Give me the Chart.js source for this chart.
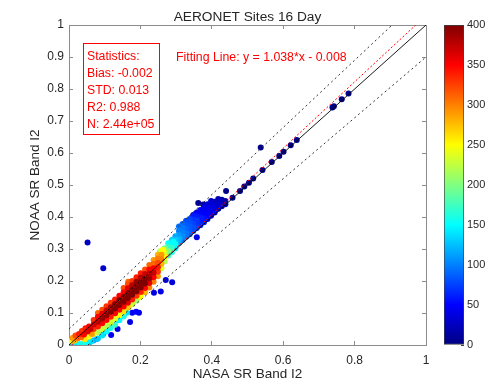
<!DOCTYPE html>
<html>
<head>
<meta charset="utf-8">
<script src="https://cdn.jsdelivr.net/npm/chart.js@4.4.1/dist/chart.umd.min.js"></script>
<style>
  html, body { margin: 0; padding: 0; background: #fff; }
  #wrap { position: relative; width: 487px; height: 381px; }
  #chart { position: absolute; left: 0; top: 0; }
  #cbar { position: absolute; left: 444px; top: 0; }
</style>
</head>
<body>
<div id="wrap">
  <canvas id="chart" width="487" height="381"></canvas>
  <canvas id="cbar" width="43" height="381"></canvas>
</div>
<script>
const TITLE = 'AERONET Sites 16 Day';
const X_LABEL = 'NASA SR Band I2';
const Y_LABEL = 'NOAA SR Band I2';
const STATS = ['Statistics:', 'Bias: -0.002', 'STD: 0.013', 'R2: 0.988', 'N: 2.44e+05'];
const FIT_TEXT = 'Fitting Line: y = 1.038*x - 0.008';
const FIT_SLOPE = 1.038, FIT_INTERCEPT = -0.008;
const CBAR_MAX = 400; // density colour scale

// reference lines
const oneToOne = [[0, 0], [1, 1]];
const envUpper = [[0, 0.05], [0.905, 1]];
const envLower = [[0.053, 0], [1, 0.9]];

// [x, y, density]
const band = [
  [0.004,0.002,130],[0.012,0.003,120],[0.020,0.002,140],[0.030,0.003,150],[0.040,0.004,160],[0.050,0.006,150],
  [0.005,0.012,250],[0.010,0.022,290],[0.015,0.013,270],[0.018,0.030,320],[0.024,0.020,300],[0.028,0.034,340],
  [0.034,0.024,310],[0.036,0.044,330],[0.042,0.033,350],[0.044,0.018,260],[0.046,0.052,340],[0.052,0.042,360],
  [0.055,0.026,250],[0.056,0.058,350],[0.060,0.050,370],[0.064,0.034,290],[0.062,0.012,140],
  [0.069,0.014,120],[0.069,0.034,240],[0.069,0.050,330],[0.069,0.064,370],[0.069,0.078,330],
  [0.081,0.020,130],[0.081,0.040,220],[0.081,0.058,340],[0.081,0.073,380],[0.081,0.088,350],[0.081,0.100,310],
  [0.093,0.030,140],[0.093,0.050,230],[0.093,0.068,350],[0.093,0.083,390],[0.093,0.098,360],[0.093,0.110,320],
  [0.105,0.042,150],[0.105,0.060,220],[0.105,0.078,350],[0.105,0.093,395],[0.105,0.108,370],[0.105,0.121,330],
  [0.117,0.053,160],[0.117,0.070,230],[0.117,0.088,340],[0.117,0.104,400],[0.117,0.118,380],[0.117,0.132,330],
  [0.129,0.063,170],[0.129,0.082,240],[0.129,0.099,350],[0.129,0.114,400],[0.129,0.128,390],[0.129,0.142,340],
  [0.141,0.077,150],[0.141,0.093,250],[0.141,0.110,350],[0.141,0.125,400],[0.141,0.140,400],[0.141,0.154,350],
  [0.153,0.089,160],[0.153,0.105,260],[0.153,0.120,350],[0.153,0.135,400],[0.153,0.150,400],[0.153,0.165,350],[0.153,0.178,320],
  [0.165,0.117,270],[0.165,0.132,360],[0.165,0.147,400],[0.165,0.162,400],[0.165,0.177,360],[0.165,0.190,320],
  [0.177,0.127,230],[0.177,0.142,340],[0.177,0.157,400],[0.177,0.172,400],[0.177,0.187,380],[0.177,0.200,330],
  [0.189,0.139,210],[0.189,0.154,330],[0.189,0.168,400],[0.189,0.183,400],[0.189,0.198,390],[0.189,0.212,340],
  [0.201,0.152,240],[0.201,0.166,340],[0.201,0.180,400],[0.201,0.195,400],[0.201,0.210,380],[0.201,0.224,340],
  [0.213,0.165,280],[0.213,0.178,350],[0.213,0.192,400],[0.213,0.207,400],[0.213,0.222,370],[0.213,0.236,320],
  [0.225,0.180,300],[0.225,0.194,360],[0.225,0.208,390],[0.225,0.222,380],[0.225,0.236,350],[0.225,0.250,310],
  [0.237,0.198,300],[0.237,0.212,350],[0.237,0.226,370],[0.237,0.240,350],[0.237,0.254,310],[0.237,0.266,290],
  [0.249,0.215,290],[0.249,0.229,330],[0.249,0.243,340],[0.249,0.257,320],[0.249,0.270,300],[0.249,0.282,280],
  [0.259,0.240,240],[0.259,0.254,280],[0.259,0.268,300],[0.259,0.282,290],[0.259,0.295,250],
  [0.268,0.262,220],[0.268,0.276,250],[0.268,0.290,230],[0.268,0.302,200],
  [0.278,0.280,180],[0.278,0.294,200],[0.278,0.307,170],[0.278,0.318,150],
  [0.288,0.290,160],[0.288,0.303,170],[0.288,0.316,150],[0.288,0.328,130],
  [0.298,0.302,140],[0.298,0.315,150],[0.298,0.328,130],[0.298,0.340,115],
  [0.308,0.318,120],[0.308,0.331,120],[0.308,0.344,110],[0.308,0.356,100],[0.308,0.370,95],
  [0.318,0.328,100],[0.318,0.340,105],[0.318,0.353,100],[0.318,0.366,95],[0.318,0.378,90],
  [0.328,0.338,95],[0.328,0.350,95],[0.328,0.363,90],[0.328,0.376,85],[0.328,0.388,80],
  [0.338,0.346,90],[0.338,0.358,85],[0.338,0.370,85],[0.338,0.383,80],[0.338,0.394,75],
  [0.348,0.356,80],[0.348,0.368,80],[0.348,0.380,75],[0.348,0.392,70],[0.348,0.404,60],
  [0.358,0.366,75],[0.358,0.378,70],[0.358,0.390,70],[0.358,0.402,60],[0.358,0.414,50],
  [0.368,0.374,65],[0.368,0.386,60],[0.368,0.398,60],[0.368,0.410,50],[0.368,0.422,45],
  [0.378,0.384,60],[0.378,0.396,55],[0.378,0.408,50],[0.378,0.420,45],[0.378,0.430,40],
  [0.388,0.394,50],[0.388,0.406,50],[0.388,0.418,45],[0.388,0.430,40],[0.388,0.440,35],
  [0.398,0.404,45],[0.398,0.416,40],[0.398,0.428,40],[0.398,0.440,35],[0.398,0.450,30],
  [0.408,0.414,40],[0.408,0.426,35],[0.408,0.438,30],[0.408,0.448,25],
  [0.418,0.426,30],[0.418,0.438,30],[0.418,0.450,25],[0.418,0.456,20],
  [0.428,0.434,25],[0.428,0.446,20],[0.428,0.454,15],
  [0.438,0.440,15],[0.438,0.450,12]
];

const fringe = [
  [0.152,0.092,110],[0.138,0.078,100],[0.115,0.055,110],[0.096,0.034,105],[0.078,0.019,115],[0.059,0.009,120],
  [0.162,0.101,140],[0.190,0.143,200],[0.199,0.151,250],[0.185,0.141,150],[0.255,0.255,160],
  [0.264,0.297,250],[0.255,0.292,200],[0.292,0.323,150],[0.311,0.333,110],[0.166,0.198,310]
];

const outliers = [
  [0.052,0.320,25],[0.096,0.240,30],[0.358,0.337,40],[0.271,0.203,35],[0.289,0.196,35],
  [0.238,0.163,40],[0.257,0.167,40],[0.196,0.101,40],[0.177,0.101,45],[0.188,0.104,50],
  [0.171,0.072,40],[0.136,0.050,40],[0.118,0.031,45],[0.348,0.406,25],
  [0.362,0.444,10],[0.376,0.439,12],[0.400,0.448,15],[0.423,0.453,15]
];

const tail = [
  [0.783,0.786,4],[0.764,0.768,4],[0.738,0.742,4],[0.742,0.746,4],[0.638,0.641,4],[0.621,0.624,4],
  [0.601,0.604,4],[0.589,0.591,4],[0.568,0.572,4],[0.542,0.547,4],[0.516,0.520,4],[0.504,0.507,4],
  [0.491,0.495,4],[0.479,0.481,4],[0.458,0.460,4],[0.537,0.617,4],[0.440,0.481,4]
];

const xTickStep = 0.2, yTickStep = 0.1, cbarTickStep = 50;

const FONT = '"Liberation Sans", Arial, Helvetica, sans-serif';
const AXIS = '#8c8c8c', TEXT = '#262626';
Chart.defaults.font.family = FONT;
Chart.defaults.color = TEXT;

function jet(t) {
  const c = v => Math.round(255 * Math.min(1, Math.max(0, v)));
  return `rgb(${c(1.5 - Math.abs(4 * t - 3))},${c(1.5 - Math.abs(4 * t - 2))},${c(1.5 - Math.abs(4 * t - 1))})`;
}

const pts = [...tail, ...outliers, ...fringe, ...band].sort((a, b) => a[2] - b[2]);
const toXY = arr => arr.map(p => ({x: p[0], y: p[1]}));
const fitLine = [
  {x: (0 - FIT_INTERCEPT) / FIT_SLOPE, y: 0},
  {x: (1 - FIT_INTERCEPT) / FIT_SLOPE, y: 1}
];

function lineSet(data, color, dash, width) {
  return {data, showLine: true, borderColor: color, borderWidth: width, borderDash: dash, pointRadius: 0, fill: false};
}

const tickFmt = v => String(+v.toFixed(2));

const annotations = {
  id: 'annotations',
  afterDraw(chart) {
    const ctx = chart.ctx;
    ctx.save();
    ctx.strokeStyle = '#ff0000';
    ctx.lineWidth = 1;
    ctx.strokeRect(83.5, 43.5, 76, 91);
    ctx.fillStyle = '#ff0000';
    ctx.font = '12.3px ' + FONT;
    ctx.textBaseline = 'middle';
    STATS.forEach((s, i) => ctx.fillText(s, 87, 57 + i * 16.9));
    ctx.fillText(FIT_TEXT, 176, 58);
    ctx.restore();
  }
};

new Chart(document.getElementById('chart'), {
  type: 'scatter',
  data: {
    datasets: [
      lineSet(fitLine, '#ff0000', [2, 2], 1),
      lineSet(toXY(oneToOne), '#000000', [], 0.9),
      lineSet(toXY(envUpper), '#333333', [2, 3], 1),
      lineSet(toXY(envLower), '#333333', [2, 3], 1),
      {
        data: toXY(pts),
        pointRadius: 3,
        pointBorderWidth: 0,
        pointBackgroundColor: pts.map(p => jet(p[2] / CBAR_MAX)),
        showLine: false
      }
    ]
  },
  options: {
    responsive: false,
    animation: false,
    layout: {padding: {top: 0, right: 61, bottom: 0, left: 0}},
    plugins: {
      legend: {display: false},
      tooltip: {enabled: false},
      title: {
        display: true, text: TITLE, fullSize: false, color: TEXT,
        font: {size: 13.7, weight: 'normal', lineHeight: 1.17},
        padding: {top: 9, bottom: 0}
      }
    },
    scales: {
      x: {
        type: 'linear', min: 0, max: 1,
        ticks: {stepSize: xTickStep, padding: 12, font: {size: 12}, callback: tickFmt},
        grid: {drawOnChartArea: false, tickLength: -4, tickColor: AXIS},
        border: {color: AXIS},
        title: {display: true, text: X_LABEL, font: {size: 13.5, lineHeight: 1}, padding: {top: 0, bottom: 0}},
        afterFit: s => { s.height = 36; }
      },
      y: {
        type: 'linear', min: 0, max: 1,
        ticks: {stepSize: yTickStep, padding: 9, font: {size: 12}, callback: tickFmt},
        grid: {drawOnChartArea: false, tickLength: -4, tickColor: AXIS},
        border: {color: AXIS},
        title: {display: true, text: Y_LABEL, font: {size: 13.5}, padding: {top: 27, bottom: 0}},
        afterFit: s => { s.width = 69; }
      },
      x2: {
        type: 'linear', position: 'top', min: 0, max: 1,
        ticks: {stepSize: xTickStep, display: false},
        grid: {drawOnChartArea: false, tickLength: -4, tickColor: AXIS},
        border: {color: AXIS},
        afterFit: s => { s.height = 0; }
      },
      y2: {
        type: 'linear', position: 'right', min: 0, max: 1,
        ticks: {stepSize: yTickStep, display: false},
        grid: {drawOnChartArea: false, tickLength: -4, tickColor: AXIS},
        border: {color: AXIS},
        afterFit: s => { s.width = 0; }
      }
    }
  },
  plugins: [annotations]
});

// colour bar
function cbarGradient(c) {
  const {ctx, chartArea} = c.chart;
  if (!chartArea) return jet(0.5);
  const g = ctx.createLinearGradient(0, chartArea.bottom, 0, chartArea.top);
  for (let i = 0; i <= 8; i++) g.addColorStop(i / 8, jet(i / 8));
  return g;
}

new Chart(document.getElementById('cbar'), {
  type: 'bar',
  data: {
    labels: [''],
    datasets: [{
      data: [CBAR_MAX],
      backgroundColor: cbarGradient,
      borderColor: '#404040',
      borderWidth: 1,
      borderSkipped: false,
      barPercentage: 1,
      categoryPercentage: 1
    }]
  },
  options: {
    responsive: false,
    animation: false,
    layout: {padding: {top: 25, right: 0, bottom: 36, left: 0}},
    plugins: {legend: {display: false}, tooltip: {enabled: false}},
    scales: {
      x: {display: false},
      y: {
        position: 'right', min: 0, max: CBAR_MAX,
        ticks: {stepSize: cbarTickStep, padding: 6, font: {size: 11}},
        grid: {drawOnChartArea: false, tickLength: -3, tickColor: '#404040'},
        border: {display: false},
        afterFit: s => { s.width = 23; }
      }
    }
  }
});
</script>
</body>
</html>
